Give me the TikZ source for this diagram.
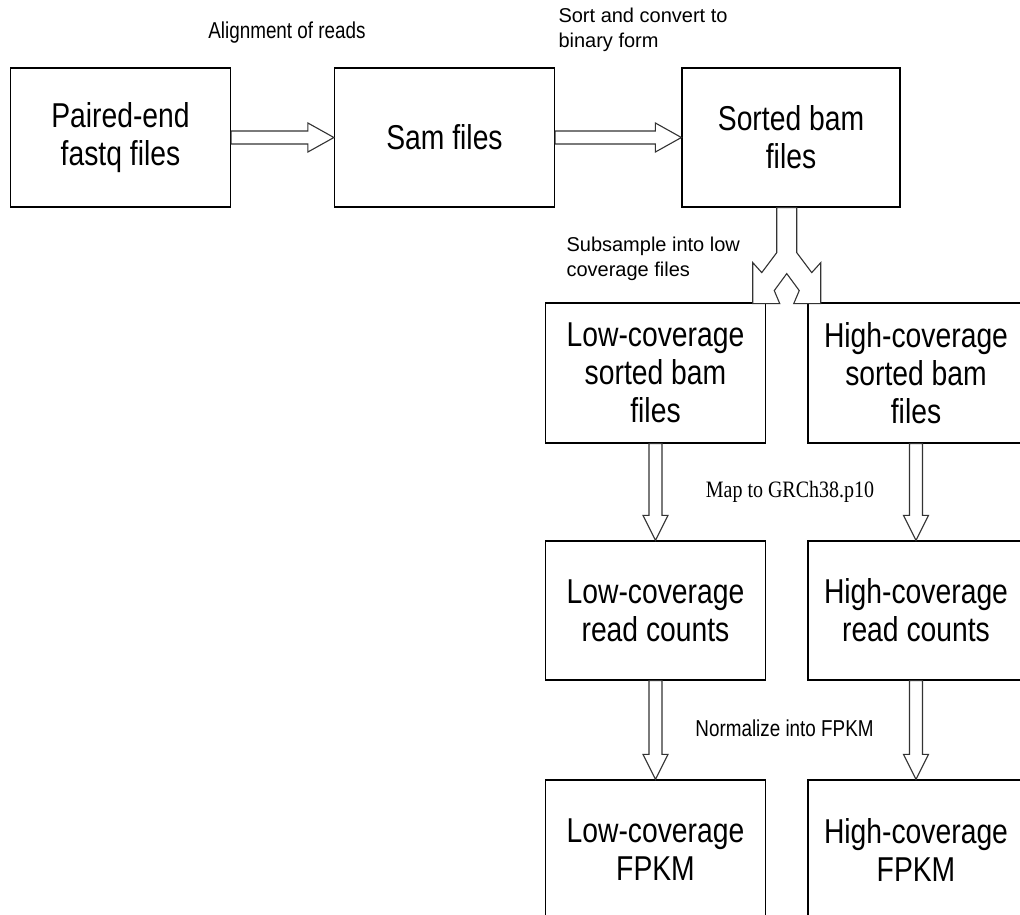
\documentclass[tikz,border=0pt]{standalone}
\usepackage{fontspec}
\setmainfont{Liberation Sans}
\newfontfamily\narrowsans{Liberation Sans}[FakeStretch=0.82]
\newfontfamily\narrowserif{Liberation Serif}[FakeStretch=0.85]
\usetikzlibrary{positioning, calc}

% Hollow block arrows between two named boxes
\newcommand{\harrow}[2]{%
  \draw[blockline] let \p1=(#1.east), \p2=(#2.west) in
    (\x1,\y1+6.5pt) -- (\x2-26pt,\y1+6.5pt) -- (\x2-26pt,\y1+14.5pt) -- (\x2,\y1)
    -- (\x2-26pt,\y1-14.5pt) -- (\x2-26pt,\y1-6.5pt) -- (\x1,\y1-6.5pt) -- cycle;}
\newcommand{\varrow}[2]{%
  \draw[blockline] let \p1=(#1.south), \p2=(#2.north) in
    (\x1-6.5pt,\y1) -- (\x1-6.5pt,\y2+25pt) -- (\x1-12.5pt,\y2+25pt) -- (\x1,\y2)
    -- (\x1+12.5pt,\y2+25pt) -- (\x1+6.5pt,\y2+25pt) -- (\x1+6.5pt,\y1) -- cycle;}

\begin{document}
\begin{tikzpicture}[x=1pt, y=1pt,
    stage/.style={draw, line width=1.2pt, minimum width=220pt, minimum height=139pt,
        inner sep=2pt, align=center, font=\narrowsans\fontsize{34.5}{38}\selectfont},
    blockline/.style={draw=black!80, line width=1.1pt, fill=white},
    steplabel/.style={font=\narrowsans\fontsize{23}{26}\selectfont},
    note/.style={align=left, anchor=west, font=\fontsize{20}{25}\selectfont}
]
\clip (0,0) rectangle (1020,-914);

% Top row
\node[stage] (fastq) at (120.5,-137.5) {Paired-end\\fastq files};
\node[stage] (sam) at (444.5,-137.5) {Sam files};
\node[stage, minimum width=218pt] (sorted) at (791,-137.5) {Sorted bam\\files};

% Low / high coverage columns
\node[stage, minimum height=140pt] (lowbam) at (655.5,-373) {Low-coverage\\sorted bam\\files};
\node[stage, minimum height=140pt, minimum width=216pt] (highbam) at (916,-373) {High-coverage\\sorted bam\\files};
\node[stage] (lowcount) at (655.5,-610.5) {Low-coverage\\read counts};
\node[stage, minimum width=216pt] (highcount) at (916,-610.5) {High-coverage\\read counts};
\node[stage, minimum height=140pt] (lowfpkm) at (655.5,-850) {Low-coverage\\FPKM};
\node[stage, minimum height=140pt, minimum width=216pt] (highfpkm) at (916,-850) {High-coverage\\FPKM};

% Step labels
\node[steplabel] (alignlbl) at (287,-33) {Alignment of reads};
\node[note] (sortlbl) at (555,-30) {Sort and convert to\\binary form};
\node[note] (sublbl) at (563,-259) {Subsample into low\\coverage files};
\node[font=\narrowserif\fontsize{23.5}{26}\selectfont] (maplbl) at (790,-492) {Map to GRCh38.p10};
\node[steplabel] (normlbl) at (784.5,-728) {Normalize into FPKM};

% Arrows
\harrow{fastq}{sam}
\harrow{sam}{sorted}
\varrow{lowbam}{lowcount}
\varrow{highbam}{highcount}
\varrow{lowcount}{lowfpkm}
\varrow{highcount}{highfpkm}

% Split arrow
\coordinate (fork) at ($(lowbam.north east)!0.5!(highbam.north west)$);
\draw[blockline] ($(fork |- sorted.south)+(-10,0)$) -- ++(0,-45) -- ++(-15,-20) -- ++(-9,10)
    -- ++(0,-41) -- ++(27,0) -- ++(-5.5,13) -- ++(12.5,17) -- ++(12.5,-17) -- ++(-5.5,-13)
    -- ++(27,0) -- ++(0,41) -- ++(-9,-10) -- ++(-15,20) -- ++(0,45) -- cycle;

\end{tikzpicture}
\end{document}
